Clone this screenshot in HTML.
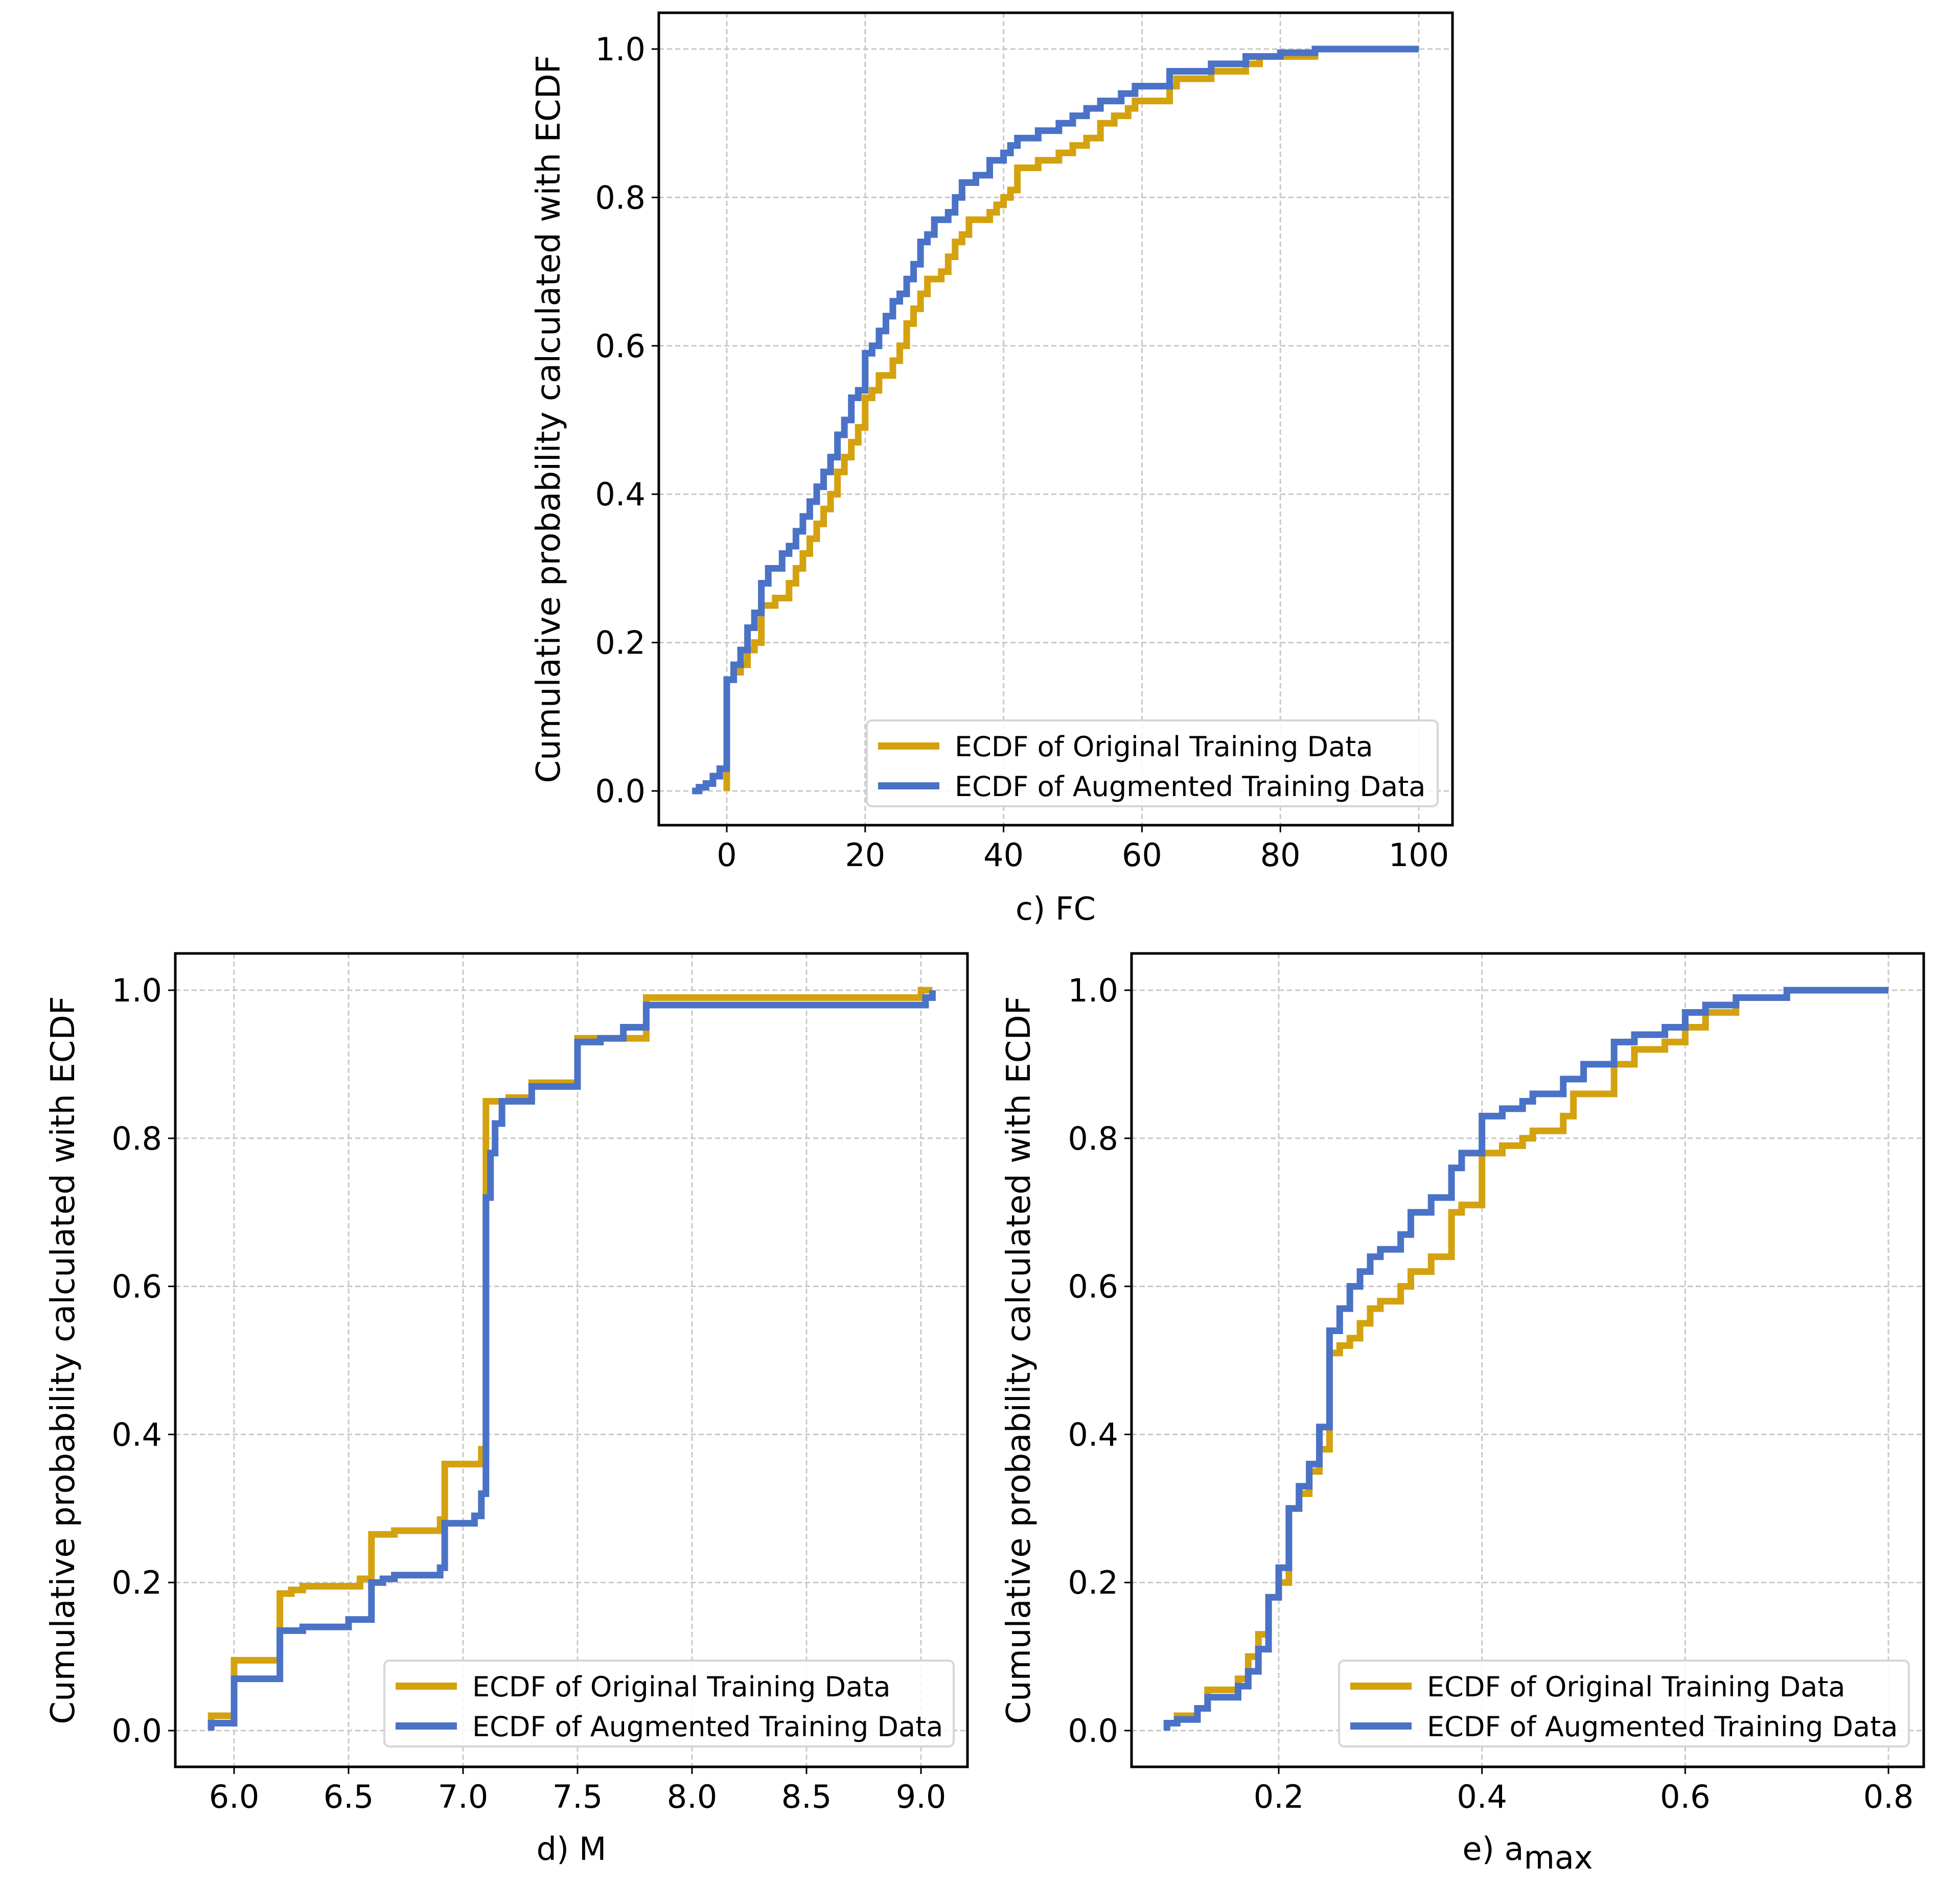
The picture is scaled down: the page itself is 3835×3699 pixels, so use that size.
<!DOCTYPE html>
<html><head><meta charset="utf-8"><style>
html,body{margin:0;padding:0;background:#fff}
svg{display:block;font-family:"DejaVu Sans","Liberation Sans",sans-serif}
</style></head><body>
<svg id="fig" width="3835" height="3699" viewBox="0 0 3835 3699" xmlns="http://www.w3.org/2000/svg"></svg>
<script>
// ---- data ----
const fcOrigX=[0,0,0,1,2,3,4,5,5,7,9,10,11,12,13,14,15,16,17,18,19,20,21,22,24,25,26,27,28,29,31,32,33,34,35,38,39,40,41,42,45,48,50,52,54,56,58,59,63,64,65,70,75,77,85,100];
const fcOrigY=[0,0.04,0.15,0.16,0.17,0.19,0.2,0.2,0.25,0.26,0.28,0.3,0.32,0.34,0.36,0.38,0.40,0.43,0.45,0.47,0.49,0.53,0.54,0.56,0.58,0.60,0.63,0.65,0.67,0.69,0.70,0.72,0.74,0.75,0.77,0.78,0.79,0.80,0.81,0.84,0.85,0.86,0.87,0.88,0.90,0.91,0.92,0.93,0.93,0.95,0.96,0.97,0.98,0.99,1.0,1.0];
const fcAugX=[-5,-4,-3,-2,-1,0,0,1,2,3,4,5,5,6,8,9,10,11,12,13,14,15,16,17,18,19,20,21,22,23,24,25,26,27,28,29,30,32,33,34,36,38,40,41,42,45,48,50,52,54,57,59,63,64,70,75,80,85,100];
const fcAugY=[0,0.005,0.01,0.02,0.03,0.04,0.15,0.17,0.19,0.22,0.24,0.25,0.28,0.30,0.32,0.33,0.35,0.37,0.39,0.41,0.43,0.45,0.48,0.50,0.53,0.54,0.59,0.60,0.62,0.64,0.66,0.67,0.69,0.71,0.74,0.75,0.77,0.78,0.80,0.82,0.83,0.85,0.86,0.87,0.88,0.89,0.90,0.91,0.92,0.93,0.94,0.95,0.95,0.97,0.98,0.99,0.995,1.0,1.0];
const mOrigX=[5.9,5.9,6.0,6.2,6.25,6.3,6.55,6.6,6.7,6.9,6.92,7.08,7.1,7.1,7.2,7.3,7.5,7.8,9.0,9.05];
const mOrigY=[0,0.02,0.095,0.185,0.19,0.195,0.205,0.265,0.27,0.285,0.36,0.38,0.75,0.85,0.855,0.875,0.935,0.99,1.0,1.0];
const mAugX=[5.9,5.9,6.0,6.2,6.3,6.5,6.6,6.65,6.7,6.9,6.92,7.05,7.08,7.1,7.12,7.14,7.17,7.3,7.5,7.6,7.7,7.8,9.02,9.05];
const mAugY=[0,0.01,0.07,0.135,0.14,0.15,0.2,0.205,0.21,0.22,0.28,0.29,0.32,0.72,0.78,0.82,0.85,0.87,0.93,0.935,0.95,0.98,0.99,1.0];
const aOrigX=[0.09,0.09,0.1,0.12,0.13,0.16,0.17,0.18,0.19,0.2,0.21,0.22,0.23,0.24,0.25,0.26,0.27,0.28,0.29,0.3,0.32,0.33,0.35,0.37,0.38,0.4,0.42,0.44,0.45,0.48,0.49,0.53,0.55,0.58,0.6,0.62,0.65,0.7,0.8];
const aOrigY=[0,0.01,0.02,0.03,0.055,0.07,0.1,0.13,0.18,0.2,0.3,0.32,0.35,0.38,0.51,0.52,0.53,0.55,0.57,0.58,0.6,0.62,0.64,0.7,0.71,0.78,0.79,0.8,0.81,0.83,0.86,0.9,0.92,0.93,0.95,0.97,0.99,1.0,1.0];
const aAugX=[0.09,0.09,0.1,0.12,0.13,0.16,0.17,0.18,0.19,0.2,0.21,0.22,0.23,0.24,0.25,0.26,0.27,0.28,0.29,0.3,0.32,0.33,0.35,0.37,0.38,0.4,0.42,0.44,0.45,0.48,0.5,0.53,0.55,0.58,0.6,0.62,0.65,0.7,0.8];
const aAugY=[0,0.01,0.015,0.03,0.045,0.06,0.08,0.11,0.18,0.22,0.3,0.33,0.36,0.41,0.54,0.57,0.6,0.62,0.64,0.65,0.67,0.7,0.72,0.76,0.78,0.83,0.84,0.85,0.86,0.88,0.9,0.93,0.94,0.95,0.97,0.98,0.99,1.0,1.0];
const yTicks=[0,0.2,0.4,0.6,0.8,1.0];
const yTickLabels=["0.0","0.2","0.4","0.6","0.8","1.0"];
const fcTicks=[0,20,40,60,80,100];
const fcTickLabels=["0","20","40","60","80","100"];
const mTicks=[6.0,6.5,7.0,7.5,8.0,8.5,9.0];
const mTickLabels=["6.0","6.5","7.0","7.5","8.0","8.5","9.0"];
const aTicks=[0.2,0.4,0.6,0.8];
const aTickLabels=["0.2","0.4","0.6","0.8"];

const NS="http://www.w3.org/2000/svg";
const svg=document.getElementById('fig');
function mk(tag,attrs,parent,text){const e=document.createElementNS(NS,tag);for(const k in attrs)e.setAttribute(k,attrs[k]);if(text!==undefined)e.textContent=text;(parent||svg).appendChild(e);return e;}
const ORANGE="#d4a10f",BLUE="#4a72c6";

function panel(p){
  const g=mk('g',{});
  
  
  const sx=v=>p.px0+(v-p.x0)*(p.px1-p.px0)/(p.x1-p.x0);
  const sy=v=>p.py0+(v-0)*(p.py1-p.py0)/(1-0);
  p.xt.forEach((t,i)=>{
    const x=sx(t);
    const gl=mk('line',{x1:x,x2:x,y1:p.T,y2:p.B,stroke:'#c8c8c8','stroke-width':3,'stroke-dasharray':'10,6'},g);
    
    
    const tk=mk('line',{x1:x,x2:x,y1:p.B,y2:p.B+14,stroke:'#000','stroke-width':3},g);
    
    
    const tl=mk('text',{x:x,y:p.B+80,'font-size':62,'text-anchor':'middle',fill:'#000'},g,p.xl[i]);
    
    
  });
  yTicks.forEach((t,i)=>{
    const y=sy(t);
    const gl=mk('line',{x1:p.L,x2:p.R,y1:y,y2:y,stroke:'#c8c8c8','stroke-width':3,'stroke-dasharray':'10,6'},g);
    
    
    const tk=mk('line',{x1:p.L-14,x2:p.L,y1:y,y2:y,stroke:'#000','stroke-width':3},g);
    
    
    const tl=mk('text',{x:p.L-26,y:y+22,'font-size':62,'text-anchor':'end',fill:'#000'},g,yTickLabels[i]);
    
    
  });
  function step(xs,ys,color,name){
    let d='M'+sx(xs[0])+','+sy(ys[0]);
    for(let i=1;i<xs.length;i++){d+=' H'+sx(xs[i])+' V'+sy(ys[i]);}
    const path=mk('path',{d:d,fill:'none',stroke:color,'stroke-width':13,'stroke-linejoin':'miter'},g);
    
    
  }
  step(p.ox,p.oy,ORANGE,'ecdf-original-line');
  step(p.ax,p.ay,BLUE,'ecdf-augmented-line');
  const fr=mk('rect',{x:p.L,y:p.T,width:p.R-p.L,height:p.B-p.T,fill:'none',stroke:'#000','stroke-width':5},g);
  
  
  const lg=mk('g',{},g);
  
  
  mk('rect',{x:p.lx,y:p.ly,width:p.lw,height:168,rx:10,fill:'rgba(255,255,255,0.85)',stroke:'#d6d6d6','stroke-width':4},lg);
  const e1=mk('line',{x1:p.lx+22,x2:p.lx+142,y1:p.ly+50,y2:p.ly+50,stroke:ORANGE,'stroke-width':14},lg);
  
  
  const t1=mk('text',{x:p.lx+172,y:p.ly+70,'font-size':54,fill:'#000'},lg,'ECDF of Original Training Data');
  
  
  const e2=mk('line',{x1:p.lx+22,x2:p.lx+142,y1:p.ly+128,y2:p.ly+128,stroke:BLUE,'stroke-width':14},lg);
  
  
  const t2=mk('text',{x:p.lx+172,y:p.ly+148,'font-size':54,fill:'#000'},lg,'ECDF of Augmented Training Data');
  
  
  const yt=mk('text',{x:0,y:0,'font-size':64,'text-anchor':'middle',fill:'#000',transform:'translate('+(p.ylx)+','+((p.T+p.B)/2)+') rotate(-90)'},g,'Cumulative probability calculated with ECDF');
  
  
  const xt=mk('text',{x:(p.L+p.R)/2,y:p.xly,'font-size':62,'text-anchor':'middle',fill:'#000'},g);
  
  
  xt.textContent=p.xlab;
  if(p.sub){mk('tspan',{'baseline-shift':'-28%'},xt,p.sub);}
}

panel({name:'panel-fc',L:1289,R:2842,T:25,B:1615,x0:0,x1:100,px0:1422,px1:2776,py0:1548,py1:96,
  xt:fcTicks,xl:fcTickLabels,ox:fcOrigX,oy:fcOrigY,ax:fcAugX,ay:fcAugY,
  lx:1696,ly:1410,lw:1117,ylx:1095,xly:1800,xlab:'c) FC'});
panel({name:'panel-m',L:343,R:1893,T:1866,B:3458,x0:6,x1:9,px0:458,px1:1802,py0:3387,py1:1938,
  xt:mTicks,xl:mTickLabels,ox:mOrigX,oy:mOrigY,ax:mAugX,ay:mAugY,
  lx:752,ly:3250,lw:1114,ylx:145,xly:3640,xlab:'d) M'});
panel({name:'panel-amax',L:2214,R:3764,T:1866,B:3458,x0:0.2,x1:0.8,px0:2502,px1:3695,py0:3387,py1:1938,
  xt:aTicks,xl:aTickLabels,ox:aOrigX,oy:aOrigY,ax:aAugX,ay:aAugY,
  lx:2620,ly:3250,lw:1115,ylx:2015,xly:3640,xlab:'e) a',sub:'max'});
</script>
</body></html>
